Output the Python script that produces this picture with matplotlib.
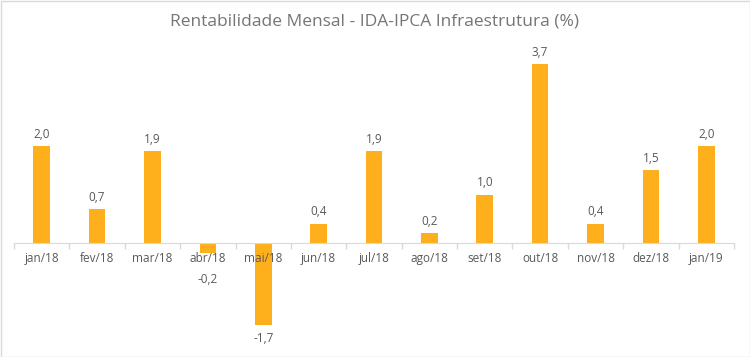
import numpy as np
import matplotlib.pyplot as plt
from matplotlib.patches import Rectangle

# data
months = ["jan/18", "fev/18", "mar/18", "abr/18", "mai/18", "jun/18", "jul/18",
          "ago/18", "set/18", "out/18", "nov/18", "dez/18", "jan/19"]
rent = [2.0, 0.7, 1.9, -0.2, -1.7, 0.4, 1.9, 0.2, 1.0, 3.7, 0.4, 1.5, 2.0]

BAR = "#FDB01B"
TXT = "#595959"
plt.rcParams["font.family"] = ["Open Sans", "DejaVu Sans"]

fig = plt.figure(figsize=(7.5, 3.57), dpi=100)
ax = fig.add_axes([14 / 750, 0.048, 720 / 750, 0.8134])

x = np.arange(len(months))
ax.bar(x, rent, width=0.3, color=BAR, zorder=2)

for xi, v in zip(x, rent):
    if v >= 0:
        ax.annotate(f"{v:.1f}".replace(".", ","), (xi, v), xytext=(0, 8.6),
                    textcoords="offset points", ha="center", va="center",
                    fontsize=8.5, color=TXT)
    else:
        # keep negative labels clear of the category labels
        ax.annotate(f"{v:.1f}".replace(".", ","), (xi, min(v, -0.47)), xytext=(0, -9.5),
                    textcoords="offset points", ha="center", va="center",
                    fontsize=8.5, color=TXT)

ax.set_xlim(-0.5, len(months) - 0.5)
ax.set_ylim(-2, 4)
ax.set_yticks([])
for s in ["left", "right", "top"]:
    ax.spines[s].set_visible(False)
ax.spines["bottom"].set_position(("data", 0))
ax.spines["bottom"].set_color("#D9D9D9")

ax.set_xticks(x)
ax.set_xticklabels(months, fontsize=8.5, color=TXT)
ax.tick_params(axis="x", which="major", length=0, pad=6.5)
ax.set_xticks(np.arange(-0.5, len(months)), minor=True)
ax.tick_params(axis="x", which="minor", length=4, color="#D9D9D9", width=1)
ax.xaxis.set_zorder(3)
ax.patch.set_alpha(0)

fig.text(0.5, 1 - 22 / 357, "Rentabilidade Mensal - IDA-IPCA Infraestrutura (%)",
         ha="center", va="center", fontsize=12.5, color="#757575")

fig.patches.append(Rectangle((0.5 / 750, 0.5 / 357), 749 / 750, 356 / 357,
                             transform=fig.transFigure, fill=False,
                             edgecolor="#D9D9D9", linewidth=1))

fig.savefig("out.png", dpi=100)
